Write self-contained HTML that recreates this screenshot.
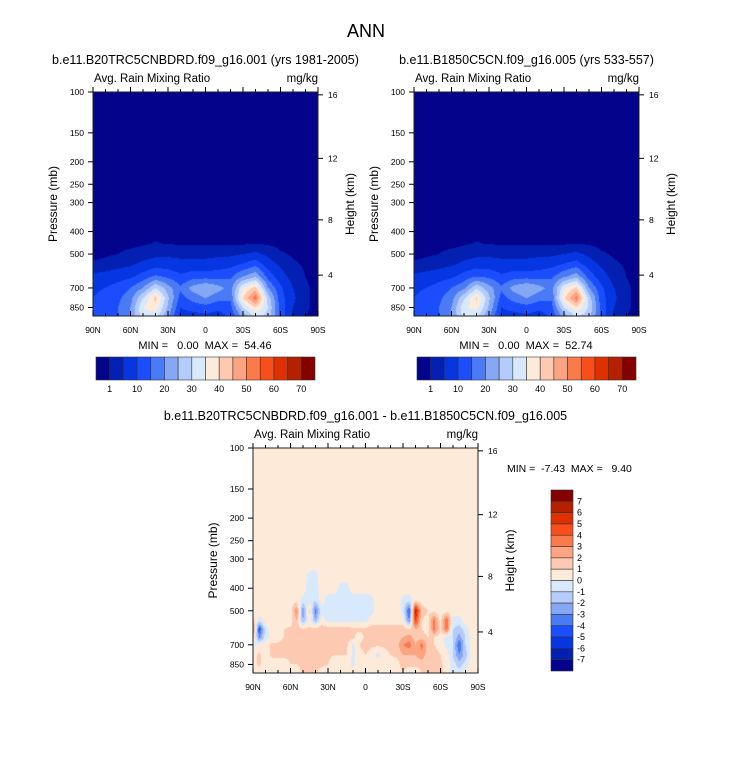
<!DOCTYPE html>
<html><head><meta charset="utf-8">
<style>
body{margin:0;background:#fff;width:733px;height:768px;overflow:hidden;position:relative;font-family:"Liberation Sans",sans-serif}
canvas{position:absolute}
svg{position:absolute;left:0;top:0}
text{white-space:pre}
</style></head>
<body>
<canvas id="cA" width="225" height="224" style="left:93px;top:92px"></canvas>
<canvas id="cB" width="225" height="224" style="left:414px;top:92px"></canvas>
<canvas id="cC" width="225" height="225" style="left:253px;top:448px"></canvas>
<svg id="ov" width="733" height="768"></svg>
<script>
// ---------- data ----------
const lats10 = [90,80,70,60,50,40,30,20,10,0,-10,-20,-30,-40,-50,-60,-70,-80,-90];
const levelsTop = [400,450,500,550,625,700,775,850,925];
const fieldA = [
 [0,0,0,0,0,0,0,0,0,0,0,0,0,0,0,0,0,0,0],
 [0,0,0,0,0.5,1.2,0.8,0.5,0.5,0.5,0.5,0.5,0.5,0.8,0.5,0,0,0,0],
 [0,0.5,1,2,3,4,4,4,4,4,4,4,5,6,4,1.5,0.5,0,0],
 [1.5,2,3,4,6,7,7,6,6,6,7,8,10,13,7,4,1.5,0.5,0],
 [6,7,8,9,12,16,14,11,13,13,13,14,20,24,13,7,3,1,0],
 [9,10,12,15,20,30,22,16,22,25,22,18,35,42,20,11,5,1.5,0],
 [10,12,14,18,30,42,26,13,17,20,17,16,40,53,28,12,6,1.5,0],
 [11,12,15,20,35,38,24,10,12,13,11,13,30,40,30,13,5,1.5,0],
 [11,12,15,20,33,32,21,8,8,9,8,11,22,32,28,13,4,1,0]];
const fieldB = [
 [0,0,0,0,0,0,0,0,0,0,0,0,0,0,0,0,0,0,0],
 [0,0,0,0,0.5,1.2,0.8,0.5,0.5,0.5,0.5,0.5,0.5,0.8,0.5,0,0,0,0],
 [0,0.5,1,2,3,4,4,4,4,4,4,4,5,6,4,1.5,0.5,0,0],
 [1.5,2,3,4,6,7,7,6,6,6,7,8,10,12,7,4,1.5,0.5,0],
 [6,7,8,9,12,15,14,11,13,13,13,14,19,23,13,7,3,1,0],
 [9,10,12,15,19,29,22,16,22,25,22,18,34,41,20,11,5,1.5,0],
 [10,12,14,18,29,41,26,13,17,20,17,16,39,52,28,12,6,1.5,0],
 [11,12,15,20,34,37,24,10,12,13,11,13,30,39,29,13,5,1.5,0],
 [11,12,15,20,32,31,21,8,8,9,8,11,22,31,27,13,4,1,0]];
const lats5 = [90,85,80,75,70,65,60,55,50,45,40,35,30,25,20,15,10,5,0,-5,-10,-15,-20,-25,-30,-35,-40,-45,-50,-55,-60,-65,-70,-75,-80,-85,-90];
const levelsDiff = [320,350,400,450,500,550,600,650,700,775,850,925];
const fieldDiff = [
 [.5,.5,.5,.5,.5,.5,.5,.5,.5,.5,.5,.5,.5,.5,.5,.5,.5,.5,.5,.5,.5,.5,.5,.5,.5,.5,.5,.5,.5,.5,.5,.5,.5,.5,.5,.5,.5],
 [.5,.5,.5,.5,.5,.5,.5,.5,.5,-.3,-.3,.5,.5,.5,.5,.5,.5,.5,.5,.5,.5,.5,.5,.5,.5,.5,.5,.5,.5,.5,.5,.5,.5,.5,.5,.5,.5],
 [.5,.5,.5,.5,.5,.5,.5,.5,.5,-.5,-.5,.5,.5,.5,-.3,-.3,.5,.5,.5,.5,.5,.5,.5,.5,.5,.5,.5,.5,.5,.5,.5,.5,.5,.5,.5,.5,.5],
 [.5,.5,.5,.5,.5,.5,.5,.5,-.3,-.5,-.8,.5,-.5,-.5,-.5,-.5,-.5,-.5,-.5,-.3,.5,.5,.5,.5,-.3,-.5,.5,.5,.5,.5,.5,.5,.5,.5,.5,.5,.5],
 [.5,.5,.5,.5,.5,.5,.5,3,-3,1.5,-3.5,-.3,-.5,-.5,-.5,-.5,-.5,-.5,-.5,-.3,.5,.5,.5,.5,-.3,-4.5,6.5,1.5,1,.5,.5,.5,.5,.5,.5,.5,.5],
 [1.5,-.5,.5,.5,.5,.5,.5,2,-2,.5,-2,.5,-.3,-.3,-.3,-.3,-.3,-.3,-.3,.5,.5,.5,.5,.5,.5,-3,5,1,.5,3.5,.5,4,-.5,-.5,.5,.5,.5],
 [3.5,-4.5,-.5,.5,.5,1,1.2,1.2,1.2,1.2,1.5,1.5,1.5,1.5,1.5,1.5,1.2,1.2,1.2,1.5,1.5,1.5,1.5,1.5,1.5,1,2,1,.5,3.5,1,3.5,-1,-1.5,-.5,.5,.5],
 [1.5,-3,-.5,.5,.5,1,1.2,1.2,1.5,1.5,1.5,1.5,1.5,1.5,1.5,1.5,1.2,.5,1.2,1.5,1.5,1.2,1.2,1.5,2,2.5,1.5,1.5,1,1,.5,-.3,-1,-2.5,-1,.5,.5],
 [-.3,.5,.5,1.2,1.2,1.5,1.5,1.5,1.5,1.5,1.5,1.5,1.5,1.5,1.5,1.2,-.3,1,1.5,1.2,1.2,1.2,1.5,1.5,3,3.5,2,3.5,1.5,1,.5,-.3,-1,-4,-1,.5,.5],
 [.5,1.2,.5,1.2,1.2,1.2,1.2,1.2,1.5,1.5,1.5,1.2,1.2,1,1,1,-.3,.5,1,.5,-.3,.5,1,1.2,2,2,2,2.5,1.5,1.5,1,.5,-1,-3,-1.5,.5,.5],
 [.5,1.2,.5,.5,.5,.5,1,1,1.2,1.2,1.2,1.2,1,.5,.5,.5,-.3,.5,.5,.5,.5,.5,.5,.5,1.5,1.5,1.5,1.5,1.5,1.5,1.2,.5,-.5,-1.5,-.5,.5,.5],
 [.5,.5,.5,.5,.5,.5,.5,.5,1.2,1.2,1.2,.5,.5,.5,.5,.5,.5,.5,.5,.5,.5,.5,.5,.5,1,-.3,-.3,1,1.5,1.5,1.5,.5,-.3,-.5,.5,.5,.5]];
const contoursTop = [1,5,10,15,20,25,30,35,40,45,50,55,60,65,70];
const contoursDiff = [-7,-6,-5,-4,-3,-2,-1,0,1,2,3,4,5,6,7];
const cbLabelsTop = ["1","10","20","30","40","50","60","70"];
const cbLabelsDiff = ["7","6","5","4","3","2","1","0","-1","-2","-3","-4","-5","-6","-7"];
const pTicks = [100,150,200,250,300,400,500,700,850];
const zTicks = [4,8,12,16];
const latTicks = [90,60,30,0,-30,-60,-90];
const latLabels = ["90N","60N","30N","0","30S","60S","90S"];
const colors = ['#03038c','#0420b2','#0536e2','#1b4dfd','#4a7af5','#85a8f5','#b5cbfa','#d8e9fd','#feead9','#fdc9b1','#fca482','#fb7a4a','#fa4e1a','#df3000','#b52000','#850000'];
const PBOT = 925;

// ---------- axes ----------
function yScale(p,y0,h){return y0 + Math.log(p/100)/Math.log(PBOT/100)*h;}
function xScale(lat,x0,w){return x0 + (90-lat)/180*w;}
function zToP(z){ if(z<=11) return 1013.25*Math.pow(1-2.2558e-2*z,5.256); return 226.3*Math.exp(-(z-11)*1000/6341);}
function rgb(h){return [parseInt(h.substr(1,2),16),parseInt(h.substr(3,2),16),parseInt(h.substr(5,2),16)];}
const crgb = colors.map(rgb);

function sample(field,lats,levs,lat,p){
  let i=0; while(i<lats.length-2 && lat<lats[i+1]) i++;
  let fx=(lats[i]-lat)/(lats[i]-lats[i+1]); fx=Math.max(0,Math.min(1,fx));
  let lp=Math.log(p), j, fy;
  if(p<=levs[0]){j=0;fy=0;} else if(p>=levs[levs.length-1]){j=levs.length-2;fy=1;}
  else{ j=0; while(p>levs[j+1]) j++; fy=(lp-Math.log(levs[j]))/(Math.log(levs[j+1])-Math.log(levs[j])); }
  const a=field[j][i],b=field[j][i+1],c=field[j+1][i],d=field[j+1][i+1];
  return (a*(1-fx)+b*fx)*(1-fy)+(c*(1-fx)+d*fx)*fy;
}
function render(id,field,lats,levs,cont){
  const cv=document.getElementById(id),ctx=cv.getContext('2d'),W=cv.width,H=cv.height;
  const im=ctx.createImageData(W,H);
  for(let y=0;y<H;y++){const p=100*Math.exp((y+0.5)/H*Math.log(PBOT/100));
    for(let x=0;x<W;x++){const lat=90-(x+0.5)/W*180;
      const v=sample(field,lats,levs,lat,p); let k=0; while(k<cont.length && v>=cont[k]) k++;
      const c=crgb[k],o=(y*W+x)*4; im.data[o]=c[0];im.data[o+1]=c[1];im.data[o+2]=c[2];im.data[o+3]=255;}}
  ctx.putImageData(im,0,0);
}
render('cA',fieldA,lats10,levelsTop,contoursTop);
render('cB',fieldB,lats10,levelsTop,contoursTop);
render('cC',fieldDiff,lats5,levelsDiff,contoursDiff);

const svg=document.getElementById('ov'), NS='http://www.w3.org/2000/svg';
function el(tag,attrs,txt){const e=document.createElementNS(NS,tag);for(const k in attrs)e.setAttribute(k,attrs[k]);if(txt!==undefined)e.textContent=txt;svg.appendChild(e);return e;}
function txt(x,y,s,size,anchor,name,extra){const e=el('text',Object.assign({x:x,y:y,'font-size':size,'text-anchor':anchor||'start',fill:'#000'},extra||{}),s);
  
  return e;}

function panel(x0,y0,w,h,title,titleY,tag){
  txt(x0+w/2,titleY,title,12.5,'middle',tag+'-title');
  txt(x0+1,y0-10,'Avg. Rain Mixing Ratio',11.5,'start',tag+'-variable-label');
  txt(x0+w,y0-10,'mg/kg',11.5,'end',tag+'-units-label');
  const fr=el('rect',{x:x0,y:y0,width:w,height:h,fill:'none',stroke:'#222','stroke-width':1});
  
  
  pTicks.forEach(p=>{const y=yScale(p,y0,h);
    const t=el('line',{x1:x0-5,x2:x0,y1:y,y2:y,stroke:'#000'});
    
    
    txt(x0-9,y+3,String(p),8.5,'end',tag+'-pressure-tick-label');});
  zTicks.forEach(z=>{const y=yScale(zToP(z),y0,h);
    const t=el('line',{x1:x0+w,x2:x0+w+5,y1:y,y2:y,stroke:'#000'});
    
    
    txt(x0+w+10,y+3,String(z),8.5,'start',tag+'-height-tick-label');});
  for(let lat=90;lat>=-90;lat-=10){const x=xScale(lat,x0,w),maj=(lat%30===0);
    const t1=el('line',{x1:x,x2:x,y1:y0,y2:y0-(maj?5:3),stroke:'#000'});
    
    
    const t2=el('line',{x1:x,x2:x,y1:y0+h,y2:y0+h-(maj?5:3),stroke:'#000'});
    
    }
  latTicks.forEach((lat,i)=>txt(xScale(lat,x0,w),y0+h+17,latLabels[i],8.5,'middle',tag+'-lat-tick-label'));
  txt(x0-36,y0+h/2,'Pressure (mb)',12,'middle',tag+'-y-axis-title',{transform:'rotate(-90 '+(x0-36)+' '+(y0+h/2)+')'});
  const hx=x0+w+36;
  txt(hx,y0+h/2,'Height (km)',12,'middle',tag+'-right-axis-title',{transform:'rotate(-90 '+hx+' '+(y0+h/2)+')'});
}
txt(366,37,'ANN',18,'middle','main-title');
panel(93,92,225,224,'b.e11.B20TRC5CNBDRD.f09_g16.001 (yrs 1981-2005)',64,'plot-a');
panel(414,92,225,224,'b.e11.B1850C5CN.f09_g16.005 (yrs 533-557)',64,'plot-b');
panel(253,448,225,225,'b.e11.B20TRC5CNBDRD.f09_g16.001 - b.e11.B1850C5CN.f09_g16.005',420,'plot-diff');
txt(205,349,'MIN =   0.00  MAX =  54.46',11,'middle','plot-a-minmax');
txt(526,349,'MIN =   0.00  MAX =  52.74',11,'middle','plot-b-minmax');
txt(507,472,'MIN =  -7.43  MAX =   9.40',10.5,'start','plot-diff-minmax');

function hbar(x0,y0,w,h,tag){const bw=w/colors.length;
  colors.forEach((c,i)=>{const r=el('rect',{x:x0+i*bw,y:y0,width:bw,height:h,fill:c,stroke:'#333','stroke-width':0.6});
    
    });
  cbLabelsTop.forEach((s,i)=>txt(x0+(2*i+1)*bw,y0+h+12,s,9,'middle',tag+'-colorbar-label'));}
hbar(96,357,219,23,'plot-a');
hbar(417,357,219,23,'plot-b');
(function(){const x0=551,y0=490,w=22,h=181,bh=h/colors.length;
  colors.slice().reverse().forEach((c,i)=>{const r=el('rect',{x:x0,y:y0+i*bh,width:w,height:bh,fill:c,stroke:'#333','stroke-width':0.6});
    
    });
  cbLabelsDiff.forEach((s,i)=>txt(x0+w+4,y0+(i+1)*bh+3,s,9,'start','diff-colorbar-label'));})();
</script>
</body></html>
